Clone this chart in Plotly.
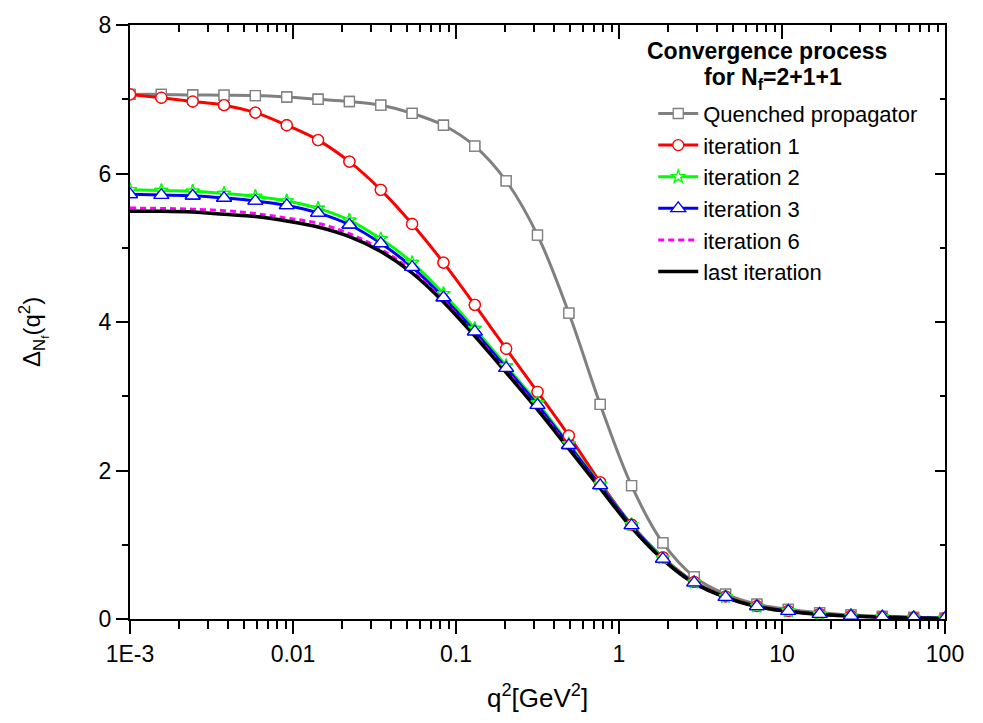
import plotly.graph_objects as go

# ---- data ----
q2 = [0.001, 0.001557, 0.002424, 0.003775, 0.005878, 0.009153, 0.01425, 0.02219,
      0.03455, 0.0538, 0.08377, 0.1304, 0.2031, 0.3162, 0.4924, 0.7667, 1.194,
      1.859, 2.894, 4.507, 7.017, 10.93, 17.01, 26.49, 41.25, 64.22, 100.0]

quenched = [7.065, 7.065, 7.057, 7.055, 7.05, 7.03, 7.00, 6.97, 6.92, 6.81, 6.65, 6.37,
            5.90, 5.17, 4.12, 2.89, 1.795, 1.024, 0.568, 0.335, 0.20, 0.13, 0.085,
            0.055, 0.035, 0.022, 0.012]
iter1 = [7.065, 7.02, 6.97, 6.92, 6.82, 6.65, 6.45, 6.16, 5.78, 5.32, 4.80, 4.23,
         3.64, 3.06, 2.47, 1.84, 1.27, 0.83, 0.50, 0.305, 0.175, 0.11, 0.068,
         0.043, 0.028, 0.018, 0.01]
iter2 = [5.78, 5.77, 5.76, 5.73, 5.69, 5.63, 5.53, 5.37, 5.12, 4.80, 4.38, 3.91,
         3.41, 2.91, 2.36, 1.81, 1.27, 0.82, 0.495, 0.30, 0.172, 0.108, 0.066,
         0.043, 0.028, 0.02, 0.01]
iter3 = [5.72, 5.71, 5.70, 5.67, 5.63, 5.57, 5.47, 5.31, 5.06, 4.74, 4.33, 3.87,
         3.38, 2.88, 2.34, 1.80, 1.26, 0.81, 0.49, 0.295, 0.17, 0.107, 0.065,
         0.042, 0.028, 0.02, 0.01]
iter6 = [5.535, 5.53, 5.52, 5.50, 5.46, 5.40, 5.33, 5.19, 4.98, 4.69, 4.29, 3.83,
         3.34, 2.84, 2.31, 1.77, 1.24, 0.80, 0.48, 0.29, 0.165, 0.10, 0.062,
         0.04, 0.026, 0.016, 0.006]
last = [5.49, 5.49, 5.48, 5.45, 5.42, 5.36, 5.28, 5.15, 4.95, 4.66, 4.27, 3.81,
        3.32, 2.82, 2.29, 1.76, 1.23, 0.80, 0.48, 0.29, 0.165, 0.10, 0.06,
        0.04, 0.025, 0.015, 0.005]

names = ["Quenched propagator", "iteration 1", "iteration 2", "iteration 3",
         "iteration 6", "last iteration"]
colors = ["#808080", "#FF0000", "#00FF00", "#0000FF", "#FF00FF", "#000000"]
series = [quenched, iter1, iter2, iter3, iter6, last]
symbols = ["square", "circle", "star", "triangle-up", None, None]
msizes = [10, 11, 10, 13, 0, 0]

xtick_vals = [0.001, 0.01, 0.1, 1, 10, 100]
xtick_text = ["1E-3", "0.01", "0.1", "1", "10", "100"]
ytick_vals = [0, 2, 4, 6, 8]

FONT = "Liberation Sans, Arial, sans-serif"

fig = go.Figure()

# lines (with legend entries)
for name, col, ys, sym, ms in zip(names, colors, series, symbols, msizes):
    dash = "6px,4px" if name == "iteration 6" else "solid"
    if sym is not None:
        fig.add_trace(go.Scatter(
            x=q2, y=ys, name=name, mode="lines+markers",
            line=dict(color=col, width=3, shape="spline", dash=dash),
            marker=dict(symbol=sym, size=ms, color="white",
                        line=dict(color=col, width=1.3)),
        ))
    else:
        fig.add_trace(go.Scatter(
            x=q2, y=ys, name=name, mode="lines",
            line=dict(color=col, width=3.5 if name == "last iteration" else 3,
                      shape="spline", dash=dash),
        ))

# symbols drawn on top of all lines
for name, col, ys, sym, ms in zip(names, colors, series, symbols, msizes):
    if sym is None:
        continue
    fig.add_trace(go.Scatter(
        x=q2, y=ys, mode="markers", showlegend=False, hoverinfo="skip",
        marker=dict(symbol=sym, size=ms, color="white",
                    line=dict(color=col, width=1.3)),
    ))

# invisible helper trace for the mirrored (top / right) axes
fig.add_trace(go.Scatter(x=[q2[0]], y=[0], xaxis="x2", yaxis="y2", mode="markers",
                         marker=dict(opacity=0), showlegend=False, hoverinfo="skip"))

axis_common = dict(showgrid=False, zeroline=False, showline=True,
                   linecolor="black", linewidth=2, tickcolor="black")

fig.update_layout(
    width=983, height=723,
    margin=dict(l=130, r=38, t=21, b=104),
    paper_bgcolor="white", plot_bgcolor="white",
    font=dict(family=FONT, size=23, color="black"),
    xaxis=dict(type="log", range=[-3, 2], tickvals=xtick_vals, ticktext=xtick_text,
               ticks="outside", ticklen=13, tickwidth=2,
               minor=dict(dtick="D1", ticks="outside", ticklen=8, tickwidth=1.5,
                          tickcolor="black"),
               tickfont=dict(size=23), **axis_common),
    yaxis=dict(range=[0, 8], tickvals=ytick_vals, ticks="outside", ticklen=12,
               tickwidth=2,
               minor=dict(dtick=1, ticks="outside", ticklen=6, tickwidth=1.5,
                          tickcolor="black"),
               tickfont=dict(size=23), **axis_common),
    xaxis2=dict(type="log", range=[-3, 2], overlaying="x", side="top",
                showticklabels=False, ticks="inside", ticklen=14, tickwidth=2,
                tickvals=xtick_vals,
                minor=dict(dtick="D1", ticks="inside", ticklen=7, tickwidth=1.5,
                           tickcolor="black"),
                **axis_common),
    yaxis2=dict(range=[0, 8], overlaying="y", side="right", showticklabels=False,
                ticks="inside", ticklen=10, tickwidth=2, tickvals=ytick_vals,
                minor=dict(dtick=1, ticks="inside", ticklen=5, tickwidth=1.5,
                           tickcolor="black"),
                **axis_common),
    legend=dict(x=0.642, y=0.886, xanchor="left", yanchor="top",
                bgcolor="rgba(0,0,0,0)", font=dict(size=22, family=FONT),
                tracegroupgap=0, itemwidth=40),
    showlegend=True,
)

fig.add_annotation(text="<b>Convergence process</b>", xref="paper", yref="paper",
                   x=(767 - 130) / 815, y=(619 - 47) / 598, showarrow=False,
                   font=dict(size=23, family=FONT), xanchor="center", yanchor="middle")
fig.add_annotation(text="<b>for N<sub>f</sub>=2+1+1</b>", xref="paper", yref="paper",
                   x=(773 - 130) / 815, y=(619 - 75) / 598, showarrow=False,
                   font=dict(size=23, family=FONT), xanchor="center", yanchor="middle")

fig.add_annotation(text="q<sup>2</sup>[GeV<sup>2</sup>]", xref="paper", yref="paper",
                   x=0.5, y=(619 - 697) / 598, showarrow=False,
                   font=dict(size=26, family=FONT), xanchor="center", yanchor="middle")
fig.add_annotation(text="Δ<sub>N<sub>f</sub></sub>(q<sup>2</sup>)", xref="paper",
                   yref="paper", x=(33 - 130) / 815, y=(619 - 330) / 598,
                   showarrow=False, textangle=-90,
                   font=dict(size=24, family=FONT), xanchor="center", yanchor="middle")

fig.write_html("out.html")
